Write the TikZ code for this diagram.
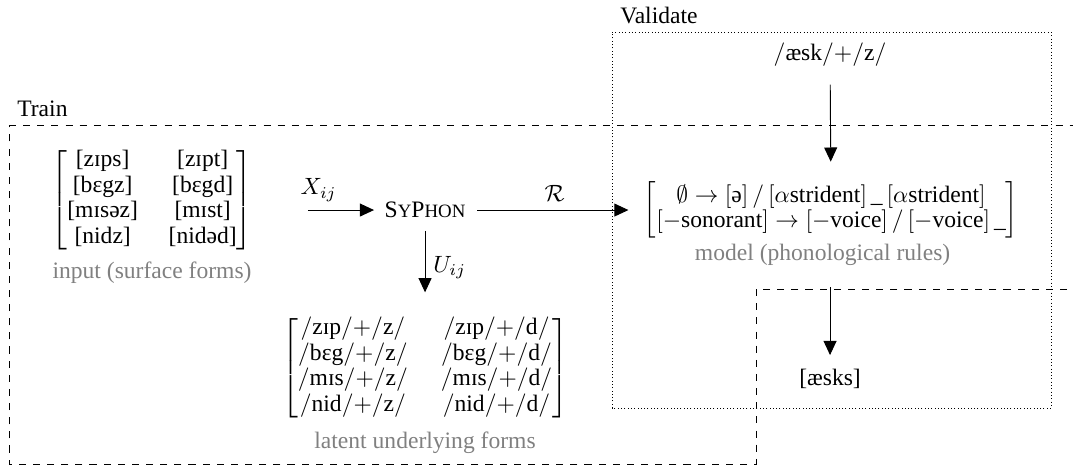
\documentclass[tikz,border=0pt]{standalone}
\usepackage{amsmath}
\usepackage{amssymb}
\usepackage{fontspec}
\setmainfont{Liberation Serif}
\usetikzlibrary{arrows.meta}
\renewcommand{\arraystretch}{0.9}
\newcommand{\capsm}[1]{{\fontsize{8}{10}\selectfont #1}}

\begin{document}
\begin{tikzpicture}[
    arr/.style={-{Triangle[length=6pt,width=5.5pt]}},
    lbl/.style={text=gray}
  ]
    \useasboundingbox (0,0) rectangle (16,6.979);

    % train and validate regions
    \draw[dashed] (0.134,5.115) -- (16.5,5.115) -- (16.5,2.669) -- (11.273,2.669)
        -- (11.273,0.060) -- (0.134,0.060) -- cycle;
    \draw[densely dotted] (9.126,0.895) rectangle (15.673,6.502);
    \node[anchor=south west] (train) at (0.134,5.115) {Train};
    \node[anchor=south west] (validate) at (9.126,6.502) {Validate};

    \node (input) at (2.267,3.996) {\setlength{\arraycolsep}{6.5pt}$\begin{bmatrix}
        \text{[zɪps]} & \text{[zɪpt]} \\
        \text{[bɛgz]} & \text{[bɛgd]} \\
        \text{[mɪsəz]} & \text{[mɪst]} \\
        \text{[nidz]} & \text{[nidəd]}
      \end{bmatrix}$};
    \node[lbl] (inputlbl) at (2.267,2.908) {input (surface forms)};

    \node (syphon) at (6.338,3.847) {S\capsm{Y}P\capsm{HON}};

    \node (latent) at (6.338,1.491) {\setlength{\arraycolsep}{7pt}$\begin{bmatrix}
        /\text{zɪp}/{+}/\text{z}/ & /\text{zɪp}/{+}/\text{d}/ \\
        /\text{bɛg}/{+}/\text{z}/ & /\text{bɛg}/{+}/\text{d}/ \\
        /\text{mɪs}/{+}/\text{z}/ & /\text{mɪs}/{+}/\text{d}/ \\
        /\text{nid}/{+}/\text{z}/ & /\text{nid}/{+}/\text{d}/
      \end{bmatrix}$};
    \node[lbl] (latentlbl) at (6.338,0.373) {latent underlying forms};

    \node (model) at (12.392,3.847) {$\begin{bmatrix}
        \emptyset \rightarrow [\text{ə}] \,/\, [\alpha\text{strident}]\,\_\,[\alpha\text{strident}] \\
        [-\text{sonorant}] \rightarrow [-\text{voice}] \,/\, [-\text{voice}]\,\_
      \end{bmatrix}$};
    \node[lbl] (modellbl) at (12.266,3.176) {model (phonological rules)};

    \node (aesk) at (12.377,6.159) {$/\text{æsk}/{+}/\text{z}/$};
    \node (aesks) at (12.377,1.327) {[æsks]};

    \draw[arr,shorten <=20pt,shorten >=1pt] (input.east |- syphon) -- node[above] {$X_{ij}$} (syphon);
    \draw[arr,shorten <=1.5pt,shorten >=3pt] (syphon) -- node[above] {$\mathcal{R}$} (model);
    \draw[arr,shorten <=2pt,shorten >=7pt] (syphon) -- node[right] {$U_{ij}$} (latent);
    \draw[arr,shorten <=4pt,shorten >=5pt] (aesk) -- (model);
    \draw[arr,shorten <=5.5pt,shorten >=2.5pt] (modellbl.south -| aesks) -- (aesks);
\end{tikzpicture}
\end{document}
